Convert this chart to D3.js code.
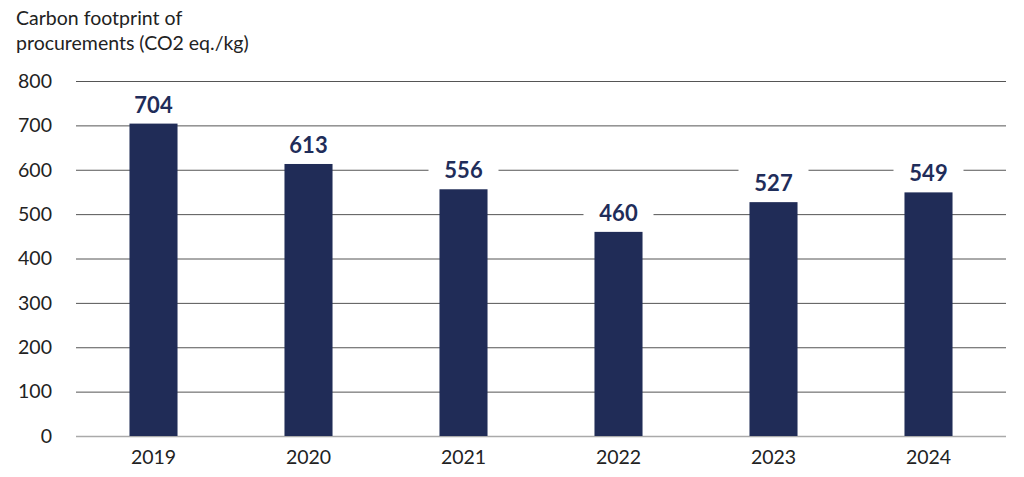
<!DOCTYPE html>
<html><head><meta charset="utf-8">
<script src="https://cdn.jsdelivr.net/npm/d3@7"></script>
<style>body{margin:0;background:#fff}svg{display:block}</style>
</head><body>
<svg id="chart" width="1024" height="477"></svg>
<script>
const years = ["2019","2020","2021","2022","2023","2024"];
const values = [704, 613, 556, 460, 527, 549];
const yTicks = [0,100,200,300,400,500,600,700,800];
const titleLines = ["Carbon footprint of", "procurements (CO2 eq./kg)"];

const svg = d3.select("#chart");
const font = "Lato, 'Open Sans', sans-serif";
const x = d3.scaleBand().domain(years).range([76, 1006]).paddingInner(0.69).paddingOuter(0.345);
const y = d3.scaleLinear().domain([0, 800]).range([436, 81]);

svg.append("g").selectAll("text").data(titleLines).join("text")
  .attr("x", 16).attr("y", (d,i) => 25 + i*25)
  .attr("font-family", font).attr("font-size", 19.5).attr("fill", "#222").text(d => d);

const yAxis = svg.append("g").attr("transform", "translate(76,0)")
  .call(d3.axisLeft(y).tickValues(yTicks).tickSize(-930).tickPadding(24));
yAxis.select(".domain").remove();
yAxis.selectAll(".tick line").attr("stroke", d => d === 0 ? "#aaa" : "#555").attr("stroke-width", d => d===0 ? 1.5 : 1);
yAxis.selectAll(".tick text").attr("font-family", font).attr("font-size", 19.5).attr("fill", "#222");

const xAxis = svg.append("g").attr("transform", "translate(0,436)")
  .call(d3.axisBottom(x).tickSize(0).tickPadding(14));
xAxis.select(".domain").remove();
xAxis.selectAll(".tick text").attr("font-family", font).attr("font-size", 19.5).attr("fill", "#222");

svg.append("g").selectAll("rect").data(years).join("rect")
  .attr("x", d => x(d)).attr("width", x.bandwidth())
  .attr("y", (d,i) => y(values[i])).attr("height", (d,i) => y(0) - y(values[i]))
  .attr("fill", "#202c57");

const lbl = svg.append("g").selectAll("g").data(years).join("g")
  .attr("transform", (d,i) => `translate(${x(d)+x.bandwidth()/2},${y(values[i]) - 11})`);
lbl.append("rect").attr("x", -35).attr("y", -23).attr("width", 70).attr("height", 29).attr("fill", "#fff");
lbl.append("text").attr("text-anchor", "middle")
  .attr("font-family", font).attr("font-size", 22).attr("font-weight", "bold").attr("fill", "#1f2d5a")
  .text((d,i) => values[i]);
</script>
</body></html>
